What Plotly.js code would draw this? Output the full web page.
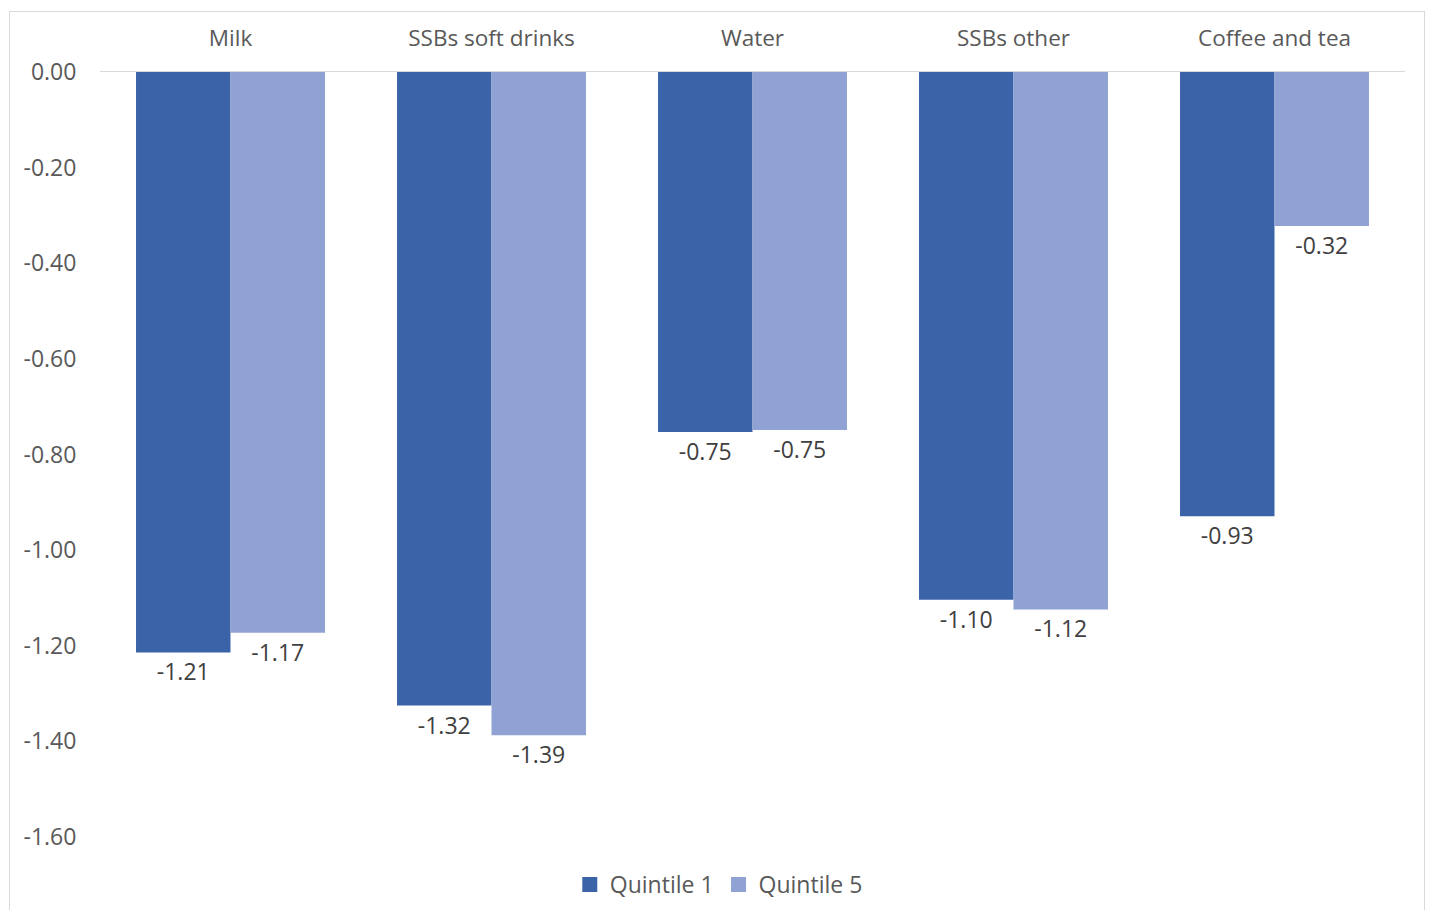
<!DOCTYPE html>
<html>
<head>
<meta charset="utf-8">
<script src="https://cdn.plot.ly/plotly-3.0.1.min.js"></script>
<style>
html,body{margin:0;padding:0;background:#fff;}
#wrap{position:relative;width:1429px;height:910px;overflow:hidden;}
#chart{width:1429px;height:910px;}
#frame{position:absolute;left:9px;top:11px;width:1416px;height:920px;border:1.5px solid #d9d9d9;pointer-events:none;box-sizing:border-box;}
</style>
</head>
<body>
<div id="wrap"><div id="chart"></div><div id="frame"></div></div>
<script>
const categories = ["Milk", "SSBs soft drinks", "Water", "SSBs other", "Coffee and tea"];
const seriesNames = ["Quintile 1", "Quintile 5"];
const quintile1 = [-1.214, -1.325, -0.753, -1.104, -0.929];
const quintile5 = [-1.173, -1.387, -0.749, -1.124, -0.322];
const yTicks = [0, -0.2, -0.4, -0.6, -0.8, -1.0, -1.2, -1.4, -1.6];
const yTickText = ["0.00", "-0.20", "-0.40", "-0.60", "-0.80", "-1.00", "-1.20", "-1.40", "-1.60"];
const colors = ["#3b64a8", "#8fa2d3"];

const fontFam = "'Open Sans', 'Noto Sans', sans-serif";
const textColor = "#595959";

function bar(name, vals, color) {
  return {
    type: "bar", name: name, x: categories, y: vals,
    marker: {color: color},
    texttemplate: "%{y:.2f}", textposition: "outside",
    textfont: {family: fontFam, size: 23, color: "#404040"},
    cliponaxis: false, hoverinfo: "skip", showlegend: false
  };
}
function legendItem(name, color) {
  return {
    type: "scatter", mode: "markers", name: name, x: [null], y: [null],
    marker: {symbol: "square", size: 15, color: color},
    showlegend: true, hoverinfo: "skip"
  };
}

const data = [
  bar(seriesNames[0], quintile1, colors[0]),
  bar(seriesNames[1], quintile5, colors[1]),
  legendItem(seriesNames[0], colors[0]),
  legendItem(seriesNames[1], colors[1])
];

const layout = {
  width: 1429, height: 910,
  margin: {l: 100, r: 24, t: 72, b: 73},
  paper_bgcolor: "#fff", plot_bgcolor: "#fff",
  barmode: "group", bargap: 0.276, bargroupgap: 0,
  font: {family: fontFam, size: 23, color: textColor},
  xaxis: {
    side: "top", showline: true, linecolor: "#d9d9d9", linewidth: 1.5,
    ticks: "outside", ticklen: 16, tickcolor: "rgba(0,0,0,0)",
    showgrid: false, zeroline: false,
    tickfont: {family: fontFam, size: 22.5, color: textColor}
  },
  yaxis: {
    range: [-1.6, 0], tickvals: yTicks, ticktext: yTickText,
    showgrid: false, zeroline: false, showline: false,
    ticks: "outside", ticklen: 18, tickcolor: "rgba(0,0,0,0)",
    tickfont: {family: fontFam, size: 23, color: textColor}
  },
  showlegend: true,
  legend: {
    orientation: "h", xref: "container", yref: "container",
    x: 0.503, xanchor: "center", y: 0.028, yanchor: "middle",
    font: {family: fontFam, size: 23, color: textColor},
    itemwidth: 30, traceorder: "normal"
  }
};

Plotly.newPlot("chart", data, layout, {displayModeBar: false, staticPlot: true});
</script>
</body>
</html>
